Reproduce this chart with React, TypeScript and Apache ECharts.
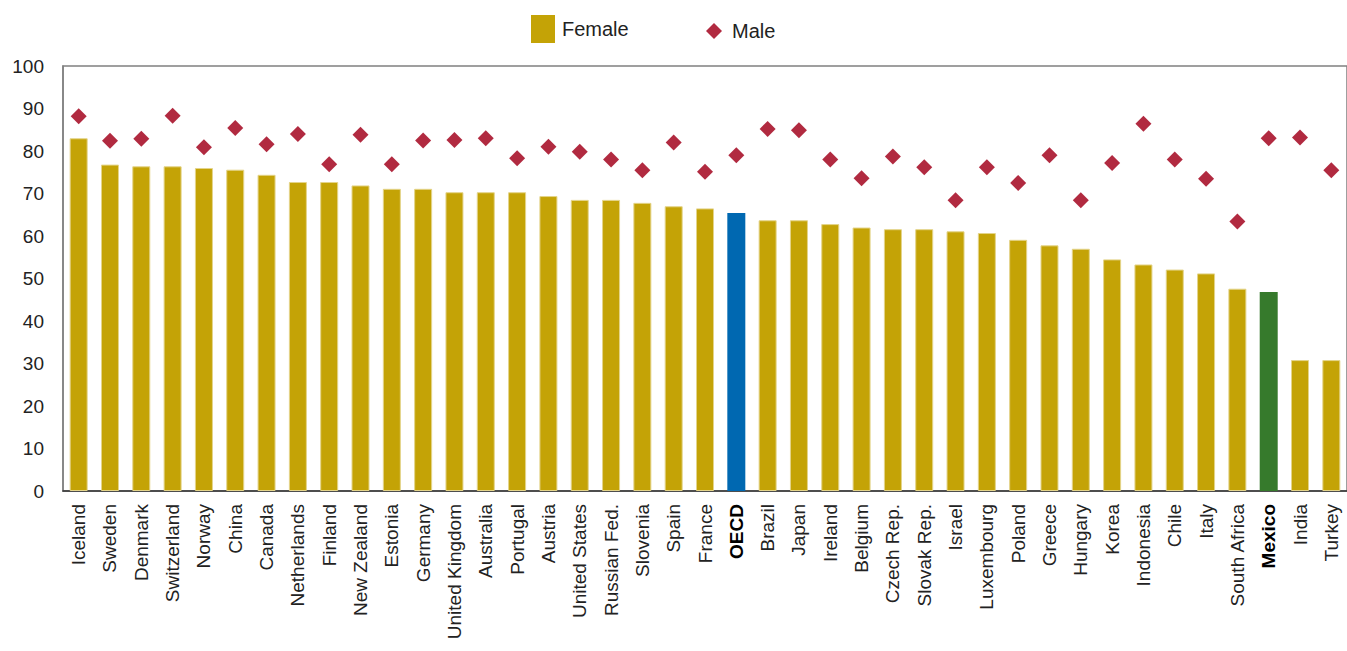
import React, { useEffect, useRef } from "react";
import * as echarts from "echarts";

const categories = [
  "Iceland", "Sweden", "Denmark", "Switzerland", "Norway", "China", "Canada", "Netherlands",
  "Finland", "New Zealand", "Estonia", "Germany", "United Kingdom", "Australia", "Portugal",
  "Austria", "United States", "Russian Fed.", "Slovenia", "Spain", "France", "OECD", "Brazil",
  "Japan", "Ireland", "Belgium", "Czech Rep.", "Slovak Rep.", "Israel", "Luxembourg", "Poland",
  "Greece", "Hungary", "Korea", "Indonesia", "Chile", "Italy", "South Africa", "Mexico", "India",
  "Turkey",
];

const femaleValues = [
  83.0, 76.8, 76.4, 76.4, 76.0, 75.6, 74.4, 72.7, 72.7, 71.9, 71.1, 71.1, 70.3, 70.3, 70.3,
  69.4, 68.5, 68.5, 67.8, 67.0, 66.5, 65.4, 63.7, 63.7, 62.8, 62.0, 61.6, 61.6, 61.1, 60.7, 59.1,
  57.8, 57.0, 54.5, 53.3, 52.1, 51.2, 47.6, 46.8, 30.8, 30.8,
];

const maleValues = [
  88.2, 82.4, 82.9, 88.3, 80.9, 85.4, 81.6, 84.0, 76.9, 83.8, 76.9, 82.5, 82.6, 83.0, 78.3,
  81.0, 79.8, 78.0, 75.5, 82.0, 75.1, 79.0, 85.2, 84.9, 78.0, 73.6, 78.7, 76.2, 68.4, 76.2, 72.5,
  79.0, 68.4, 77.2, 86.4, 78.0, 73.5, 63.4, 83.0, 83.2, 75.5,
];

const yTicks = [0, 10, 20, 30, 40, 50, 60, 70, 80, 90, 100];

const highlight: Record<string, string> = { OECD: "#0068B1", Mexico: "#367A2C" };
const FEMALE = "#C4A306";
const MALE = "#B12A40";
const FONT = "'Liberation Sans', Arial, sans-serif";

export default function App() {
  const ref = useRef<HTMLDivElement>(null);
  useEffect(() => {
    if (!ref.current) return;
    const chart = echarts.init(ref.current, undefined, { renderer: "svg" });
    chart.setOption({
      animation: false,
      textStyle: { fontFamily: FONT },
      legend: [
        {
          data: ["Female"],
          left: 531,
          top: 15,
          padding: 0,
          itemWidth: 24,
          itemHeight: 28,
          icon: "rect",
          textStyle: { fontSize: 20, color: "#222", fontFamily: FONT, padding: [0, 0, 0, 2] },
        },
        {
          data: ["Male"],
          left: 706,
          top: 21,
          padding: 0,
          itemWidth: 16,
          itemHeight: 16,
          icon: "diamond",
          textStyle: { fontSize: 20, color: "#222", fontFamily: FONT, padding: [0, 0, 0, 5] },
        },
      ],
      grid: {
        left: 63,
        right: -6,
        top: 66,
        bottom: 160,
        show: true,
        borderColor: "#808080",
        borderWidth: 1.5,
        containLabel: false,
      },
      xAxis: {
        type: "category",
        data: categories,
        boundaryGap: true,
        axisTick: { show: false },
        axisLine: { lineStyle: { color: "#333", width: 1.5 } },
        axisLabel: {
          rotate: 90,
          interval: 0,
          margin: 13,
          fontSize: 19,
          color: "#222",
          fontFamily: FONT,
          formatter: (v: string) => (highlight[v] ? `{b|${v}}` : v),
          rich: { b: { fontWeight: "bold", fontSize: 19, color: "#000", fontFamily: FONT } },
        },
      },
      yAxis: {
        type: "value",
        min: yTicks[0],
        max: yTicks[yTicks.length - 1],
        interval: 10,
        splitLine: { show: false },
        axisTick: { show: false },
        axisLine: { show: true, lineStyle: { color: "#808080", width: 1.5 } },
        axisLabel: { fontSize: 19, color: "#222", margin: 19, fontFamily: FONT },
      },
      series: [
        {
          name: "Female",
          type: "bar",
          barWidth: 18,
          itemStyle: { color: FEMALE },
          data: femaleValues.map((v, i) => {
            const c = highlight[categories[i]];
            return c
              ? { value: v, itemStyle: { color: c } }
              : { value: v, itemStyle: { color: FEMALE, borderColor: "#E4D48A", borderWidth: 1 } };
          }),
        },
        {
          name: "Male",
          type: "scatter",
          symbol: "diamond",
          symbolSize: 16,
          itemStyle: { color: MALE, opacity: 1 },
          data: maleValues,
          z: 3,
        },
      ],
    });
    return () => chart.dispose();
  }, []);
  return <div ref={ref} style={{ width: 1347, height: 651, position: "absolute", left: 0, top: 0 }} />;
}
